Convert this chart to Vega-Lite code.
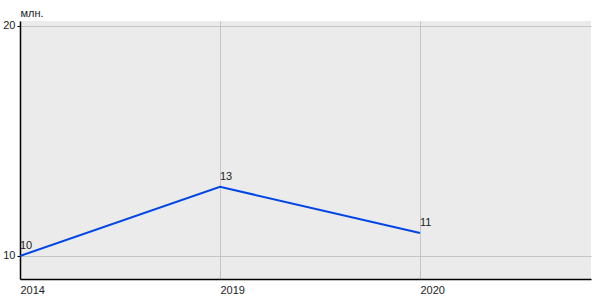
{
  "$schema": "https://vega.github.io/schema/vega-lite/v6.json",
  "autosize": "none",
  "padding": {"left": 20, "top": 21, "right": 9, "bottom": 21},
  "width": 571,
  "height": 258,
  "background": "#ffffff",
  "config": {
    "view": {"fill": "#ebebeb", "stroke": null},
    "font": "Liberation Sans",
    "axis": {"labelFont": "Liberation Sans", "titleFont": "Liberation Sans"}
  },
  "data": {
    "values": [
      {"year": "2014", "value": 10},
      {"year": "2019", "value": 13},
      {"year": "2020", "value": 11}
    ]
  },
  "encoding": {
    "x": {
      "field": "year",
      "type": "ordinal",
      "scale": {"type": "point", "domain": ["2014", "2019", "2020"], "padding": 0.4275, "align": 0},
      "axis": {
        "title": null,
        "labelAngle": 0,
        "labelAlign": "left",
        "labelFontSize": 11,
        "labelColor": "#222222",
        "labelPadding": 5,
        "ticks": false,
        "domainColor": "#000000",
        "domainWidth": 1.5,
        "grid": true,
        "gridColor": "#c4c4c4",
        "gridWidth": 1
      }
    },
    "y": {
      "field": "value",
      "type": "quantitative",
      "scale": {"domain": [9, 20.2], "nice": false, "zero": false},
      "axis": {
        "values": [10, 20],
        "title": "млн.",
        "titleAngle": 0,
        "titleX": 0,
        "titleY": -8,
        "titleAlign": "left",
        "titleBaseline": "middle",
        "titleFontSize": 11,
        "titleFontWeight": "normal",
        "titleColor": "#222222",
        "labelFontSize": 11,
        "labelColor": "#222222",
        "labelDy": -3,
        "labelPadding": 2,
        "tickSize": 3,
        "tickColor": "#000000",
        "domainColor": "#000000",
        "domainWidth": 1.5,
        "grid": true,
        "gridColor": "#c4c4c4",
        "gridWidth": 1
      }
    }
  },
  "layer": [
    {"mark": {"type": "line", "color": "#0046e6", "strokeWidth": 2}},
    {
      "mark": {"type": "text", "align": "left", "baseline": "middle", "dy": -10, "fontSize": 11, "color": "#222222"},
      "encoding": {"text": {"field": "value", "type": "quantitative"}}
    }
  ]
}
